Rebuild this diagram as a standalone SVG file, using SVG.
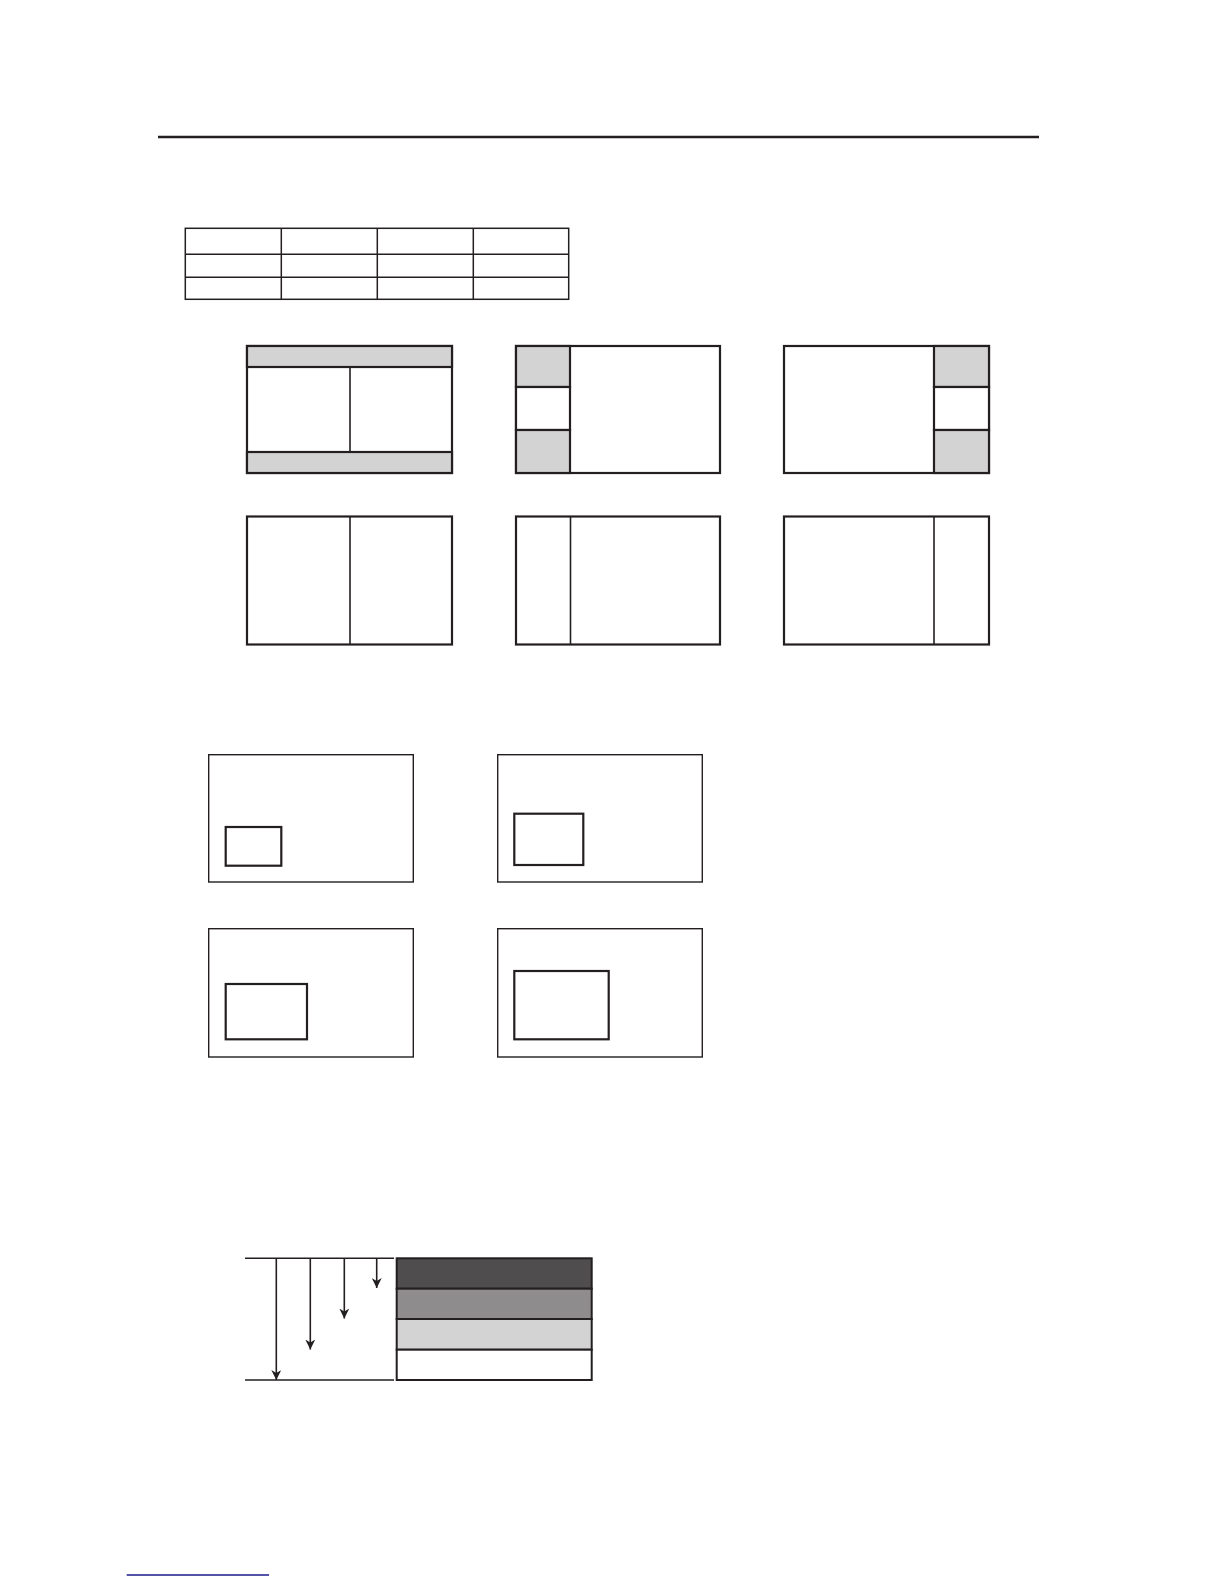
<svg xmlns="http://www.w3.org/2000/svg" width="1224" height="1584" viewBox="0 0 1224 1584">
<style>
.b{fill:#fff;stroke:#231f20;stroke-width:2.2}
.g{fill:#d3d3d3;stroke:#231f20;stroke-width:2.2}
.t{fill:none;stroke:#231f20;stroke-width:1.5}
.o{fill:#fff;stroke:#231f20;stroke-width:1.4}
.i{fill:#fff;stroke:#231f20;stroke-width:2.2}
.l{stroke:#231f20;stroke-width:1.6;fill:none}
</style>
<defs>
<marker id="ah" viewBox="0 0 10 10" refX="10" refY="5" markerWidth="10" markerHeight="10" markerUnits="userSpaceOnUse" orient="auto">
<path d="M0,0 L3,5 L0,10 L10,5 Z" fill="#231f20"/>
</marker>
</defs>
<rect width="1224" height="1584" fill="#fff"/>
<line id="topline" x1="158" y1="137" x2="1039" y2="137" stroke="#231f20" stroke-width="2.6"/>
<g id="table">
<rect class="t" x="185.3" y="228.3" width="383.4" height="71"/>
<line class="t" x1="185.3" y1="254.3" x2="568.7" y2="254.3"/>
<line class="t" x1="185.3" y1="277.3" x2="568.7" y2="277.3"/>
<line class="t" x1="281.3" y1="228.3" x2="281.3" y2="299.3"/>
<line class="t" x1="377.3" y1="228.3" x2="377.3" y2="299.3"/>
<line class="t" x1="473.3" y1="228.3" x2="473.3" y2="299.3"/>
</g>
<g id="layout1">
<rect class="b" x="247" y="346" width="205" height="127"/>
<rect class="g" x="247" y="346" width="205" height="21"/>
<rect class="g" x="247" y="452" width="205" height="21"/>
<line class="l" x1="350" y1="367" x2="350" y2="452" stroke-width="2.2"/>
</g>
<g id="layout2">
<rect class="b" x="516" y="346" width="204" height="127"/>
<rect class="g" x="516" y="346" width="54" height="41"/>
<rect class="b" x="516" y="387" width="54" height="43"/>
<rect class="g" x="516" y="430" width="54" height="43"/>
</g>
<g id="layout3">
<rect class="b" x="784" y="346" width="205" height="127"/>
<rect class="g" x="934" y="346" width="55" height="41"/>
<rect class="b" x="934" y="387" width="55" height="43"/>
<rect class="g" x="934" y="430" width="55" height="43"/>
</g>
<g id="layout4">
<rect class="b" x="247" y="516.5" width="205" height="128"/>
<line class="l" x1="350" y1="516.5" x2="350" y2="644.5" stroke-width="2.4"/>
</g>
<g id="layout5">
<rect class="b" x="516" y="516.5" width="204" height="128"/>
<line class="l" x1="570.5" y1="516.5" x2="570.5" y2="644.5" stroke-width="2.2"/>
</g>
<g id="layout6">
<rect class="b" x="784" y="516.5" width="205" height="128"/>
<line class="l" x1="934" y1="516.5" x2="934" y2="644.5" stroke-width="1.6"/>
</g>
<g id="pipA">
<rect class="o" x="208.7" y="754.7" width="204.6" height="127.3"/>
<rect class="i" x="225.7" y="827" width="55.6" height="38.7"/>
</g>
<g id="pipB">
<rect class="o" x="497.7" y="754.7" width="204.6" height="127.3"/>
<rect class="i" x="514.3" y="813.7" width="69" height="51.3"/>
</g>
<g id="pipC">
<rect class="o" x="208.7" y="928.7" width="204.6" height="128.3"/>
<rect class="i" x="225.7" y="984" width="81.3" height="55.3"/>
</g>
<g id="pipD">
<rect class="o" x="497.7" y="928.7" width="204.6" height="128.3"/>
<rect class="i" x="514.3" y="971" width="94.4" height="68.3"/>
</g>
<g id="levels">
<rect x="396.7" y="1258.3" width="195" height="30.4" fill="#4f4d4e" stroke="#231f20" stroke-width="2"/>
<rect x="396.7" y="1288.7" width="195" height="30.3" fill="#8e8c8d" stroke="#231f20" stroke-width="2"/>
<rect x="396.7" y="1319" width="195" height="30.7" fill="#d3d3d3" stroke="#231f20" stroke-width="2"/>
<rect x="396.7" y="1349.7" width="195" height="30.3" fill="#fff" stroke="#231f20" stroke-width="2"/>
</g>
<g id="connectors">
<line class="l" x1="245" y1="1258.3" x2="394" y2="1258.3"/>
<line class="l" x1="245" y1="1380" x2="394" y2="1380"/>
<line class="l" x1="276.3" y1="1258.3" x2="276.3" y2="1380" marker-end="url(#ah)"/>
<line class="l" x1="310.3" y1="1258.3" x2="310.3" y2="1349.5" marker-end="url(#ah)"/>
<line class="l" x1="344.3" y1="1258.3" x2="344.3" y2="1318.5" marker-end="url(#ah)"/>
<line class="l" x1="376.7" y1="1258.3" x2="376.7" y2="1288" marker-end="url(#ah)"/>
</g>
<line id="footline" x1="126.7" y1="1575" x2="269" y2="1575" stroke="#1a1a8c" stroke-width="1.4"/>
</svg>
